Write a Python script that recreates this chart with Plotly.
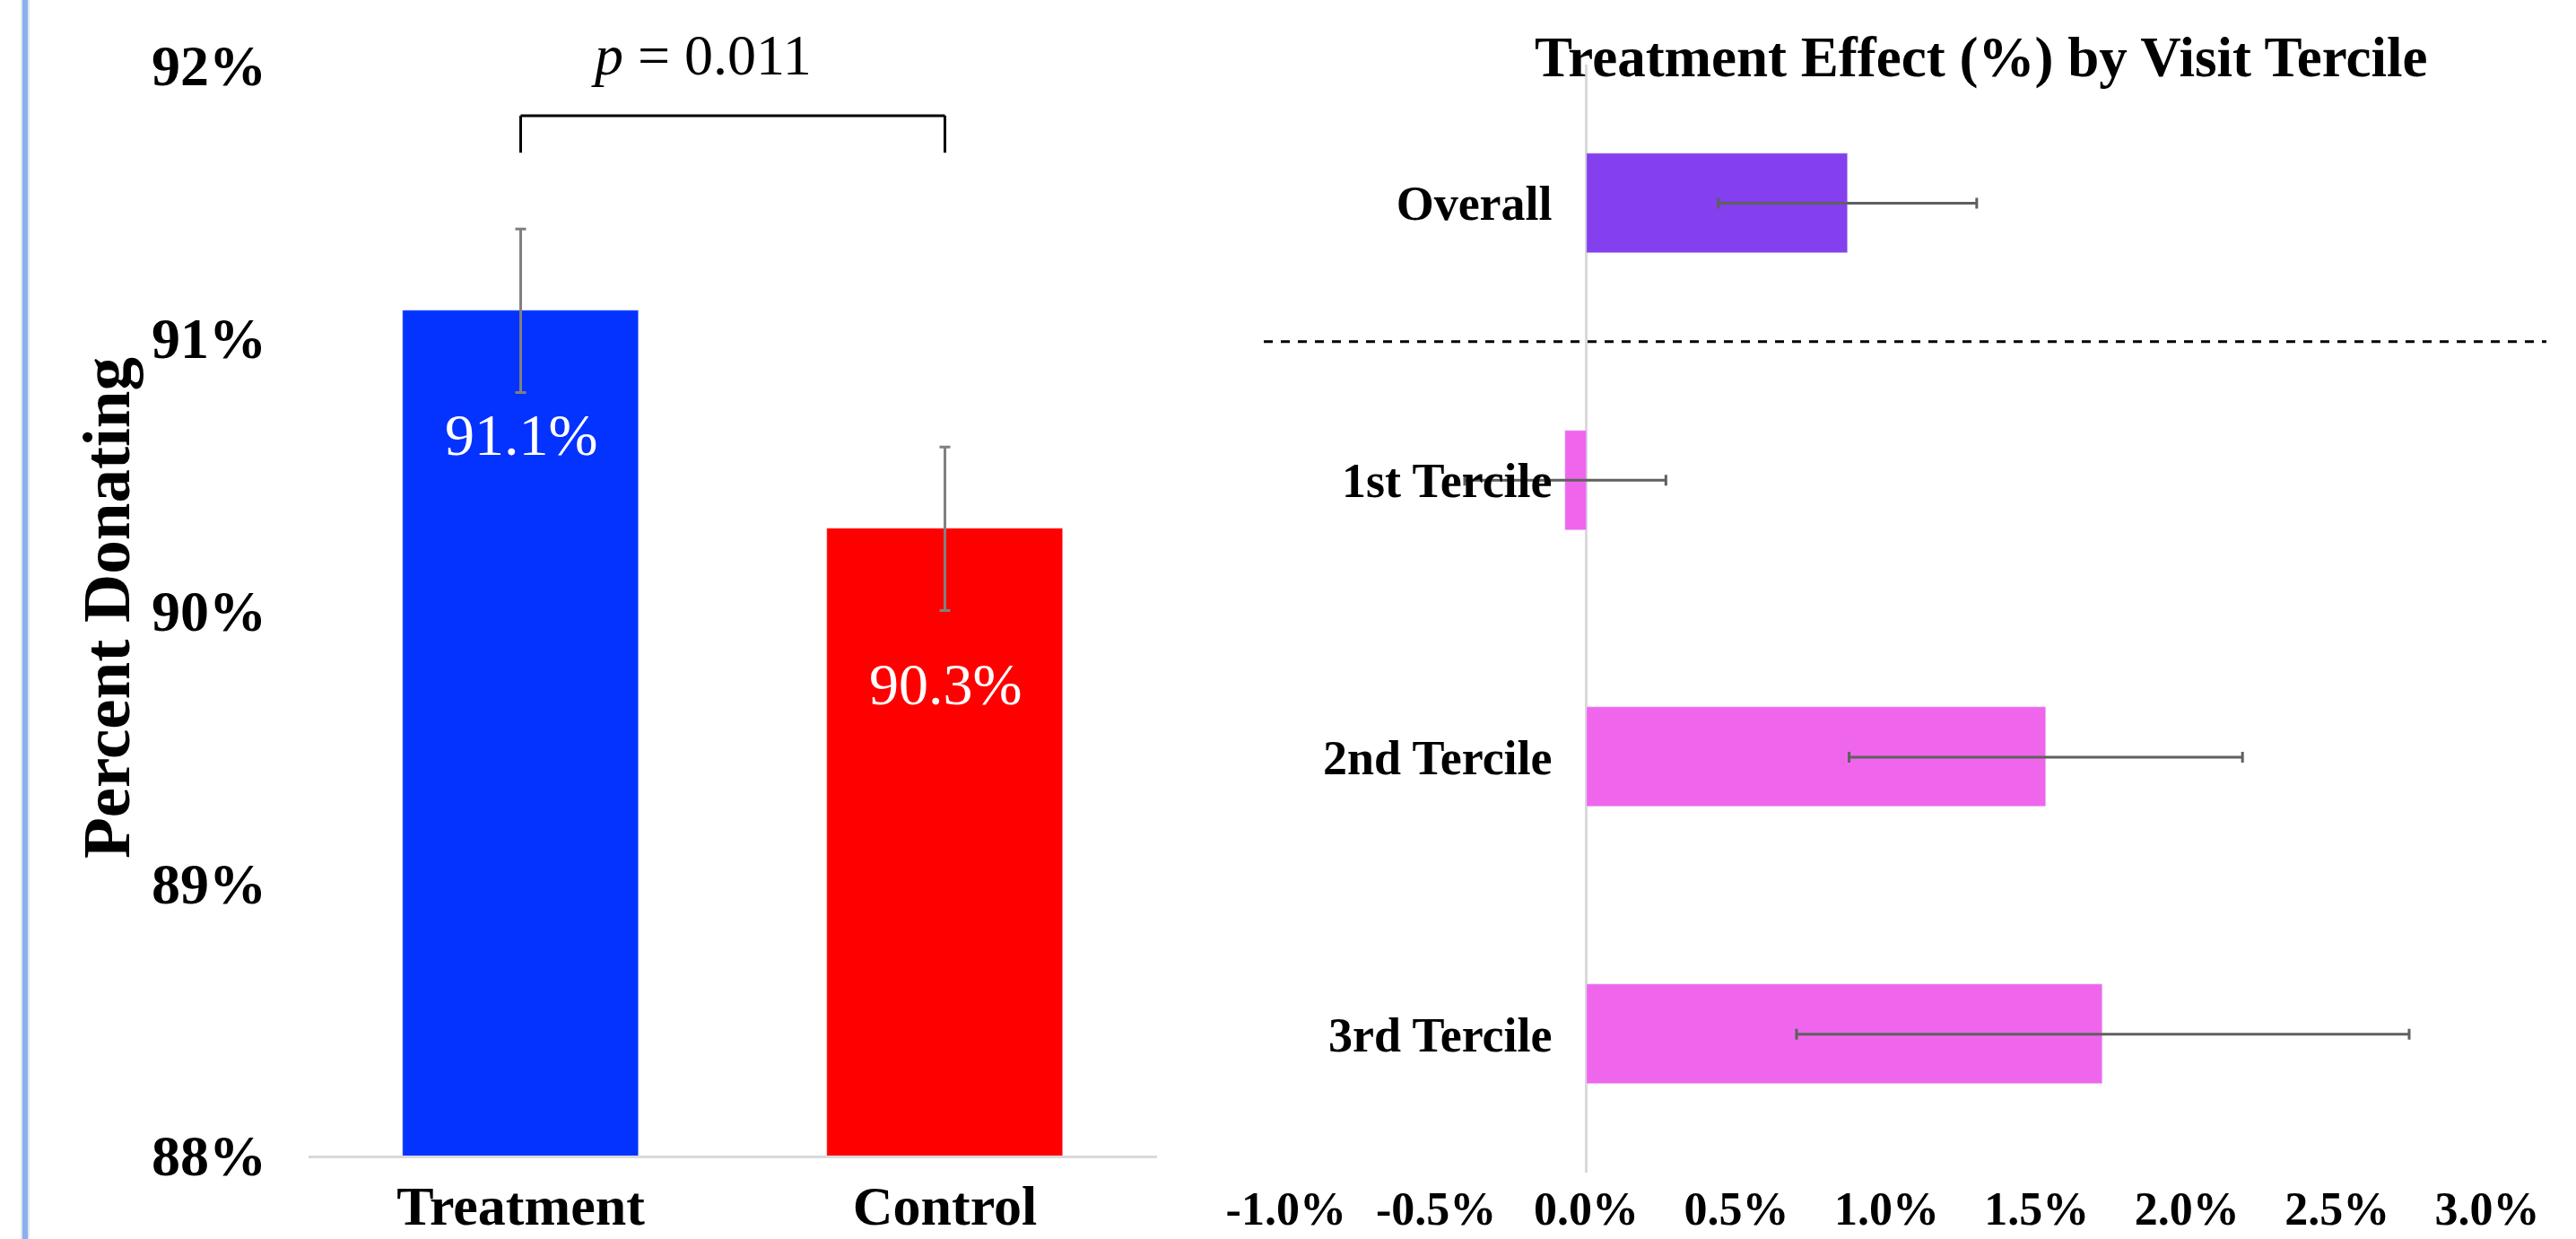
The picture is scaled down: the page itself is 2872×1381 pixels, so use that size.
import plotly.graph_objects as go

# ---- Left panel: share of donors by arm ----
arms = ["Treatment", "Control"]
pct_donating = [91.1, 90.3]
pct_err = [0.3, 0.3]
arm_colors = ["#0433FF", "#FF0000"]
p_value_text = "<i>p</i> = 0.011"
left_ticks = [88, 89, 90, 91, 92]

# ---- Right panel: treatment effect by visit tercile ----
groups = ["Overall", "1st Tercile", "2nd Tercile", "3rd Tercile"]
effect = [0.87, -0.07, 1.53, 1.72]
effect_err = [0.43, 0.335, 0.655, 1.02]
group_colors = ["#843FEE", "#EF66ED", "#EF66ED", "#EF66ED"]
right_ticks = [-1.0, -0.5, 0.0, 0.5, 1.0, 1.5, 2.0, 2.5, 3.0]
right_title = "Treatment Effect (%) by Visit Tercile"

SERIF = "Liberation Serif"
W, H = 2872, 1381

fig = go.Figure()

fig.add_trace(go.Bar(
    x=arms, y=pct_donating, marker_color=arm_colors, width=0.555,
    error_y=dict(type="data", array=pct_err, color="#808080", thickness=3, width=6),
    xaxis="x", yaxis="y", hoverinfo="skip",
))

fig.add_trace(go.Bar(
    y=groups, x=effect, orientation="h", marker_color=group_colors, width=0.36,
    error_x=dict(type="data", array=effect_err, color="#5F5F5F", thickness=3, width=6),
    xaxis="x2", yaxis="y2", hoverinfo="skip",
))

x2_range = [-1.074, 3.197]
x2_domain = [1409 / W, 2839 / W]
zero_pos = x2_domain[0] + (0 - x2_range[0]) / (x2_range[1] - x2_range[0]) * (x2_domain[1] - x2_domain[0])

fig.update_layout(
    width=W, height=H,
    margin=dict(l=0, r=0, t=0, b=0, pad=0, autoexpand=False),
    paper_bgcolor="white", plot_bgcolor="white",
    showlegend=False, bargap=0,
    font=dict(family=SERIF, color="black"),
    xaxis=dict(
        domain=[344 / W, 1290 / W], anchor="y", automargin=False,
        showline=True, linecolor="#D9D9D9", linewidth=3,
        showgrid=False, ticks="", ticklabelstandoff=0,
        tickfont=dict(family=SERIF, size=62, weight="bold", color="black"),
    ),
    yaxis=dict(
        domain=[(H - 1288) / H, (H - 73) / H], anchor="x", automargin=False,
        range=[88, 92], showgrid=False, zeroline=False, showline=False,
        tickvals=left_ticks, ticktext=[f"{t}%" for t in left_ticks],
        ticks="", ticklabelstandoff=46,
        tickfont=dict(family=SERIF, size=64, weight="bold", color="black"),
    ),
    xaxis2=dict(
        domain=x2_domain, anchor="y2", range=x2_range, automargin=False,
        showgrid=False, showline=False,
        zeroline=True, zerolinecolor="#D9D9D9", zerolinewidth=3,
        tickvals=right_ticks, ticktext=[f"{t:.1f}%" for t in right_ticks],
        ticks="", ticklabelstandoff=5,
        tickfont=dict(family=SERIF, size=52, weight="bold", color="black"),
    ),
    yaxis2=dict(
        domain=[(H - 1307) / H, (H - 72) / H], anchor="free", position=zero_pos,
        automargin=False,
        categoryorder="array", categoryarray=groups, range=[3.5, -0.5],
        showgrid=False, showline=False, zeroline=False,
        ticks="", ticklabelstandoff=38,
        tickfont=dict(family=SERIF, size=54, weight="bold", color="black"),
    ),
)

# value labels inside the two bars
label_shift = [-138, -173]
for arm, v, dy in zip(arms, pct_donating, label_shift):
    fig.add_annotation(x=arm, y=v, xref="x", yref="y", text=f"{v:.1f}%",
                       showarrow=False, yshift=dy, xanchor="center", yanchor="middle",
                       font=dict(family=SERIF, size=66, color="white"))

# y-axis title of the left panel
fig.add_annotation(x=118 / W, y=(H - 678) / H, xref="paper", yref="paper",
                   text="<b>Percent Donating</b>", textangle=-90, showarrow=False,
                   xanchor="center", yanchor="middle",
                   font=dict(family=SERIF, size=75, color="black"))

# significance bracket and p-value
bracket = dict(type="line", xref="x", yref="y", line=dict(color="black", width=3))
fig.add_shape(**bracket, x0=arms[0], x1=arms[1], y0=91.816, y1=91.816)
fig.add_shape(**bracket, x0=arms[0], x1=arms[0], y0=91.68, y1=91.816)
fig.add_shape(**bracket, x0=arms[1], x1=arms[1], y0=91.68, y1=91.816)
fig.add_annotation(x=782 / W, y=(H - 62) / H, xref="paper", yref="paper",
                   text=p_value_text, showarrow=False,
                   xanchor="center", yanchor="middle",
                   font=dict(family=SERIF, size=64, color="black"))

# right panel title
fig.add_annotation(x=2209 / W, y=(H - 64) / H, xref="paper", yref="paper",
                   text=f"<b>{right_title}</b>", showarrow=False,
                   xanchor="center", yanchor="middle",
                   font=dict(family=SERIF, size=63, color="black"))

# dashed separator between overall and tercile rows
fig.add_shape(type="line", xref="x2 domain", yref="y2", x0=0, x1=1, y0=0.5, y1=0.5,
              line=dict(color="black", width=3, dash="10px,9px"))

# thin accent bar on the far left
fig.add_shape(type="line", xref="paper", yref="paper", x0=28 / W, x1=28 / W, y0=0, y1=1,
              line=dict(color="#E3E6EC", width=10))
fig.add_shape(type="line", xref="paper", yref="paper", x0=28 / W, x1=28 / W, y0=0, y1=1,
              line=dict(color="#8AB0F0", width=6))

fig.write_html("out.html")
